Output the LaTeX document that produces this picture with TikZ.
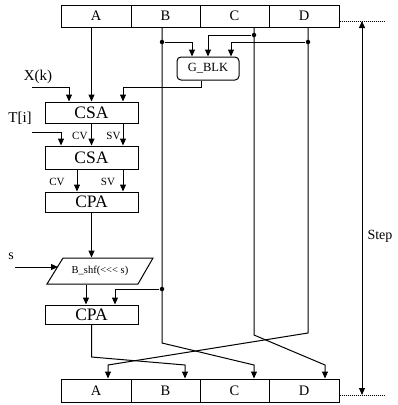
\documentclass[tikz,border=0pt]{standalone}
\usepackage{fontspec}
\setmainfont{Liberation Serif}
\usetikzlibrary{arrows.meta}
\begin{document}
\begin{tikzpicture}[x=1pt,y=-1pt,
  line width=1pt,
  every node/.style={inner sep=0pt},
  cell/.style={draw, minimum height=22pt, font=\fontsize{14.5}{16}\selectfont},
  blk/.style={draw, minimum width=93pt, font=\fontsize{17.5}{20}\selectfont},
  lbl/.style={font=\fontsize{11}{12}\selectfont},
  arr/.style={-{Triangle[length=7pt,width=6pt]}},
  darr/.style={{Triangle[length=7pt,width=6pt]}-{Triangle[length=7pt,width=6pt]}},
  jdot/.style={circle, fill, minimum size=4.5pt},
  dots/.style={line width=0.6pt, dash pattern=on 1pt off 1pt},
]
\useasboundingbox (0,0) rectangle (397,405);

% top register
\node[cell, minimum width=70pt] (tA) at (96,16) {A};
\node[cell, minimum width=69pt] (tB) at (165.5,16) {B};
\node[cell, minimum width=69pt] (tC) at (234.5,16) {C};
\node[cell, minimum width=70pt] (tD) at (304,16) {D};
% bottom register
\node[cell, minimum width=70pt, minimum height=23pt] (bA) at (96,390.5) {A};
\node[cell, minimum width=69pt, minimum height=23pt] (bB) at (165.5,390.5) {B};
\node[cell, minimum width=69pt, minimum height=23pt] (bC) at (234.5,390.5) {C};
\node[cell, minimum width=70pt, minimum height=23pt] (bD) at (304,390.5) {D};

% blocks
\node[blk, minimum height=21pt] (csa1) at (91.5,112.5) {CSA};
\node[blk, minimum height=23pt] (csa2) at (91.5,157.5) {CSA};
\node[blk, minimum height=20pt] (cpa1) at (91.5,202) {CPA};
\node[blk, minimum height=19pt] (cpa2) at (91.5,314.5) {CPA};
\node[draw, rounded corners=4pt, minimum width=62pt, minimum height=23pt,
      font=\fontsize{12.5}{14}\selectfont] (gblk) at (208,68.5) {G\_BLK};
\node[minimum width=90pt, minimum height=26pt, font=\fontsize{10.5}{12}\selectfont]
      (para) at (100,271) {B\_shf(<{}<{}< s)};
\draw (47,284) -- (63,258) -- (153,258) -- (138,284) -- cycle;

% labels
\node[font=\fontsize{15}{17}\selectfont] (xk) at (38,77) {X(k)};
\node[font=\fontsize{15}{17}\selectfont] (ti) at (20,118) {T[i]};
\node[font=\fontsize{14}{15}\selectfont] (sl) at (11,256) {s};
\node[font=\fontsize{14}{15}\selectfont, anchor=west] (stepl) at (367,236) {Step};
\node[lbl, anchor=east] (cv1) at (88,136) {CV};
\node[lbl, anchor=east] (sv1) at (121,136) {SV};
\node[lbl] (cv2) at (57,182) {CV};
\node[lbl] (sv2) at (108,182) {SV};

% junctions
\node[jdot] (jB1) at (162,42) {};
\node[jdot] (jC) at (254,35) {};
\node[jdot] (jD) at (308,42) {};
\node[jdot] (jB2) at (162,289) {};

% free ends and kinks
\coordinate (xin) at (32,87);
\coordinate (tin) at (32,132);
\coordinate (sin) at (15,267);
\coordinate (paraL) at (58,267);
\coordinate (kA) at (91.5,357);
\coordinate (eA) at (185,365);
\coordinate (kB) at (162,343);
\coordinate (eB) at (254,365);
\coordinate (kC) at (254,335);
\coordinate (eC) at (325,365);
\coordinate (kD) at (308,333);
\coordinate (eD) at (108,365);
\coordinate (sTop) at (362,21);
\coordinate (sBot) at (362,395);

% A path
\draw[arr] (tA.south -| csa1.north) -- (csa1.north);
\draw[arr] (xin) -| ([xshift=-22.5pt]csa1.north);
\draw[arr] ([xshift=-7pt]gblk.south) -- ++(0,7) -| ([xshift=31.5pt]csa1.north);
\draw[arr] (tin) -| ([xshift=-30.5pt]csa2.north);
\draw[arr] (csa1.south) -- (csa2.north);
\draw[arr] ([xshift=31.5pt]csa1.south) -- ([xshift=31.5pt]csa2.north);
\draw[arr] ([xshift=-14.5pt]csa2.south) -- ([xshift=-14.5pt]cpa1.north);
\draw[arr] ([xshift=31.5pt]csa2.south) -- ([xshift=31.5pt]cpa1.north);
\draw[arr] (cpa1.south) -- (cpa1.south |- para.north);
\draw[arr] (sin) -- (paraL);
\draw[arr] ([xshift=-5.5pt]cpa2.north |- para.south) -- ([xshift=-5.5pt]cpa2.north);
\draw[arr] (jB2) -| ([xshift=23.5pt]cpa2.north);

% G_BLK inputs
\draw[arr] (jB1) -| ([xshift=-16pt]gblk.north);
\draw[arr] (jC) -| (gblk.north);
\draw[arr] (jD) -| ([xshift=23pt]gblk.north);

% long lines and crossing
\draw[arr] (cpa2.south) -- (kA) -- (eA) -- (eA |- bB.north);
\draw[arr] (tB.south -| jB1) -- (kB) -- (eB) -- (eB |- bC.north);
\draw[arr] (tC.south -| jC) -- (kC) -- (eC) -- (eC |- bD.north);
\draw[arr] (tD.south -| jD) -- (kD) -- (eD) -- (eD |- bA.north);

% step
\draw[darr] (sTop) -- (sBot);
\draw[dots] (tD.east |- sTop) -- (385,21);
\draw[dots] (bD.east |- sBot) -- (385,395);
\end{tikzpicture}
\end{document}
